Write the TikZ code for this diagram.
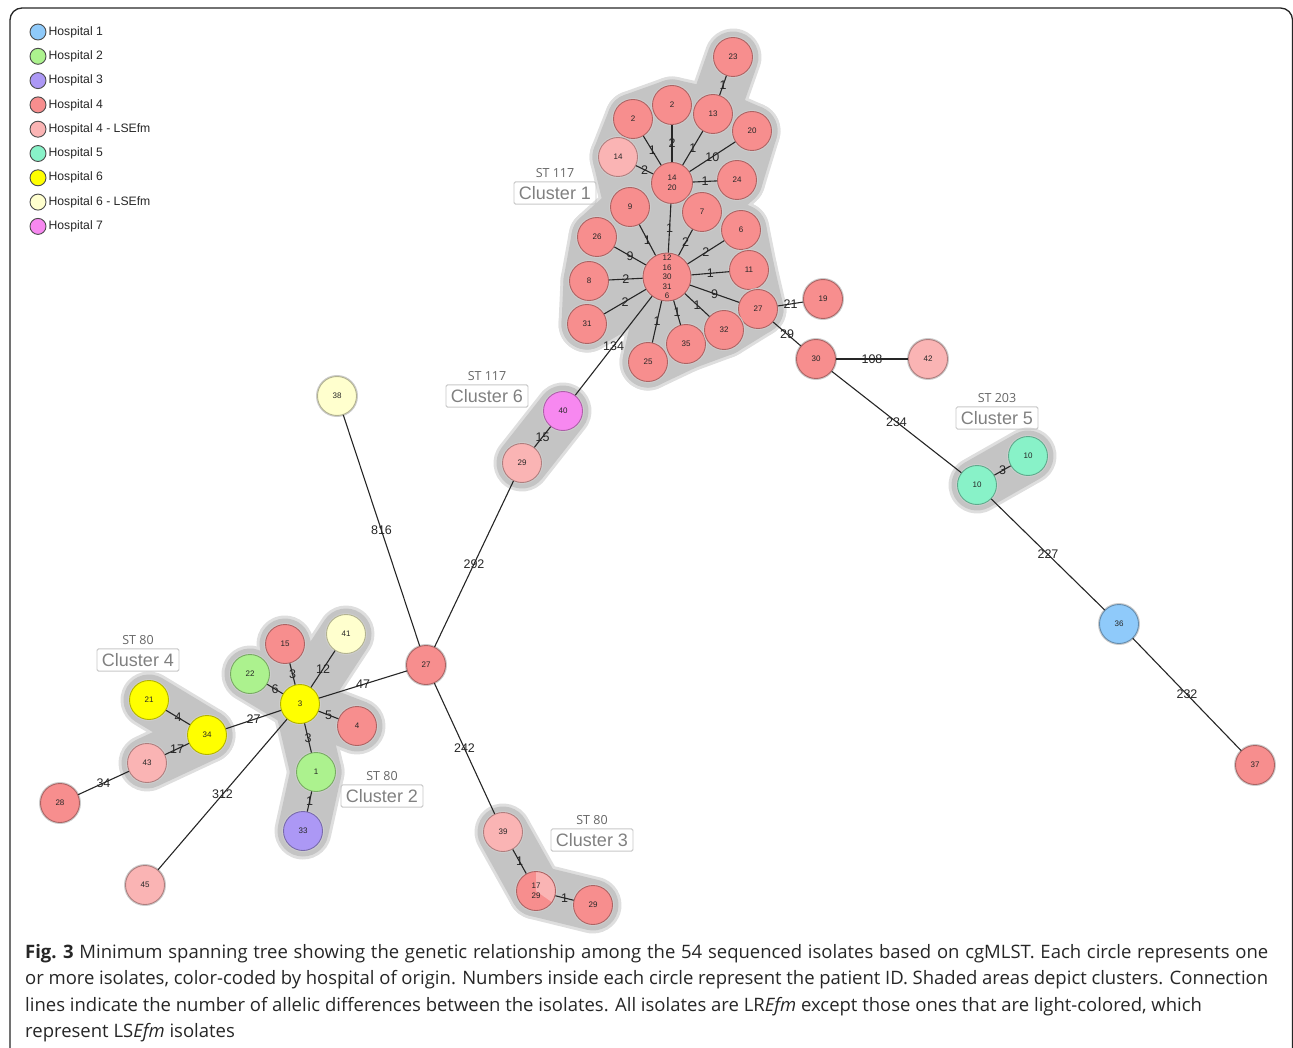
\documentclass[tikz,border=0pt]{standalone}
\usepackage{fontspec}
\setmainfont{Liberation Sans}
\newfontfamily\opensans{Open Sans}
\usetikzlibrary{positioning}
\usetikzlibrary{backgrounds}

\definecolor{hospA}{RGB}{143,202,250}
\definecolor{hospB}{RGB}{172,242,142}
\definecolor{hospC}{RGB}{172,152,245}
\definecolor{hospD}{RGB}{247,142,142}
\definecolor{hospDl}{RGB}{250,180,180}
\definecolor{hospE}{RGB}{136,242,200}
\definecolor{hospF}{RGB}{255,255,0}
\definecolor{hospFl}{RGB}{255,255,206}
\definecolor{hospG}{RGB}{247,136,240}
\definecolor{hullfill}{RGB}{196,196,196}
\definecolor{hullrim}{RGB}{222,222,222}

\tikzset{
  iso/.style={circle, fill=#1, draw=#1!70!black, line width=0.9pt,
    minimum size=39pt, inner sep=0pt, align=center, text=black!85,
    font=\fontsize{8}{9.5}\selectfont,
    preaction={draw=black!20, line width=3pt}},
  link/.style={draw=black!85, line width=1.1pt},
  elabel/.style={font=\fontsize{12.5}{12.5}\selectfont, text=black!85, inner sep=0pt},
  clbox/.style={draw=black!22, rounded corners=1.5pt, line width=0.9pt,
    text=black!50, font=\fontsize{18}{18}\selectfont,
    inner xsep=5pt, inner ysep=4.5pt},
  sttext/.style={font=\opensans\fontsize{12.5}{12.5}\selectfont, text=black!60, inner sep=0pt},
  legdot/.style={circle, fill=#1, draw=black!70, line width=0.9pt,
    minimum size=16pt, inner sep=0pt},
  legtext/.style={font=\fontsize{12.2}{13}\selectfont, text=black!85, inner sep=0.5pt},
  captext/.style={font=\opensans\fontsize{18.5}{26}\selectfont, text=black!85,
    inner sep=0pt, anchor=base west},
  frame/.style={draw=black!85, line width=1.3pt, rounded corners=12pt}
}

\begin{document}
\begin{tikzpicture}[x=1pt, y=-1pt]
  \useasboundingbox (0,0) rectangle (1293,1048);
  \draw[frame] (10,1080) -- (10,8) -- (1292.5,8) -- (1292.5,1080);

  % legend
  \foreach \i/\c/\t in {0/hospA/Hospital 1, 1/hospB/Hospital 2, 2/hospC/Hospital 3,
      3/hospD/Hospital 4, 4/hospDl/Hospital 4 - LSEfm, 5/hospE/Hospital 5,
      6/hospF/Hospital 6, 7/hospFl/Hospital 6 - LSEfm, 8/hospG/Hospital 7} {
    \node[legdot=\c] (leg\i) at (38,32+24.3*\i) {};
    \node[legtext, right=1.5pt of leg\i] (legt\i) {\t};
  }

  % isolates
  \node[iso=hospD, minimum size=48pt] (nhub) at (667,277) {12\\16\\30\\31\\6};
  \node[iso=hospD, minimum size=41pt] (n1420) at (672,183) {14\\20};
  \node[iso=hospD, path picture={\fill[hospDl] (path picture bounding box.center)
      -- ++(90:25pt) arc[start angle=90, end angle=-35, radius=25pt] -- cycle;}]
    (n1729) at (536,891) {17\\29};
  \foreach \n/\c/\x/\y/\t in {
      n23/hospD/733/57/23, n2a/hospD/633/119/2, n2b/hospD/672/105/2,
      n13/hospD/713/114/13, n20/hospD/752/131/20, n14/hospDl/618/157/14,
      n24/hospD/737/180/24, n9/hospD/630/207/9, n7/hospD/702/212/7,
      n26/hospD/597/237/26, n6/hospD/741/230/6, n8/hospD/589/281/8,
      n11/hospD/749/270/11, n31/hospD/587/324/31, n27a/hospD/758/309/27,
      n19/hospD/823/299/19, n25/hospD/648/362/25, n35/hospD/686/344/35,
      n32/hospD/724/330/32, n30/hospD/816/359/30, n42/hospDl/928/359/42,
      n10a/hospE/977/485/10, n10b/hospE/1028/456/10, n36/hospA/1119/624/36,
      n37/hospD/1255/765/37, n40/hospG/563/411/40, n29a/hospDl/522/463/29,
      n27b/hospD/426/665/27, n38/hospFl/337/396/38, n3/hospF/300/704/3,
      n15/hospD/285/644/15, n41/hospFl/346/634/41, n22/hospB/250/674/22,
      n4/hospD/357/726/4, n1/hospB/316/772/1, n33/hospC/303/831/33,
      n34/hospF/207/735/34, n21/hospF/149/700/21, n43/hospDl/147/763/43,
      n28/hospD/60/803/28, n45/hospDl/145/885/45, n39/hospDl/503/832/39,
      n29b/hospD/593/905/29}
    \node[iso=\c] (\n) at (\x,\y) {\t};

  % allelic differences
  \foreach \a/\b/\l in {nhub/n1420/1, n1420/n2a/1, n1420/n2b/2, n1420/n13/1,
      n13/n23/1, n1420/n20/10, n1420/n14/2, n1420/n24/1, nhub/n9/1, nhub/n7/2,
      nhub/n26/9, nhub/n6/2, nhub/n8/2, nhub/n11/1, nhub/n31/2, nhub/n27a/9,
      nhub/n32/1, nhub/n35/1, nhub/n25/1, n27a/n19/21, n27a/n30/29,
      n30/n42/108, n30/n10a/234, n10a/n10b/3, n10a/n36/227, n36/n37/232,
      nhub/n40/134, n40/n29a/15, n29a/n27b/292, n38/n27b/816, n27b/n3/47,
      n27b/n39/242, n39/n1729/1, n1729/n29b/1, n3/n15/3, n3/n41/12, n3/n22/6,
      n3/n4/5, n3/n1/3, n1/n33/1, n3/n34/27, n34/n21/4, n34/n43/17,
      n43/n28/34, n3/n45/312}
    \draw[link] (\a) -- node[elabel] {\l} (\b);

  % shaded clusters
  \begin{scope}[on background layer]
    \foreach \w/\c in {57/hullrim, 51/hullfill} {
      \foreach \a/\b in {nhub/n1420, n1420/n2a, n1420/n2b, n1420/n13, n13/n23,
          n1420/n20, n1420/n14, n1420/n24, nhub/n9, nhub/n7, nhub/n26, nhub/n6,
          nhub/n8, nhub/n11, nhub/n31, nhub/n27a, nhub/n32, nhub/n35, nhub/n25,
          n40/n29a, n10a/n10b, n3/n22, n3/n15, n3/n41, n3/n4, n3/n1, n1/n33,
          n34/n21, n34/n43, n39/n1729, n1729/n29b}
        \draw[line width=\w pt, draw=\c, line cap=round] (\a.center) -- (\b.center);
      \filldraw[line width=\w pt, draw=\c, fill=\c, line join=round]
        (n14.center) -- (n2a.center) -- (n2b.center) -- (n13.center)
        -- (n20.center) -- (n24.center) -- (n7.center) -- (n6.center)
        -- (n11.center) -- (n27a.center) -- (n32.center) -- (n35.center)
        -- (n25.center) -- (nhub.center) -- (n31.center) -- (n8.center)
        -- (n26.center) -- (n9.center) -- cycle;
    }
  \end{scope}

  % cluster labels
  \node[clbox] (cl1) at (555,193) {Cluster 1};
  \node[sttext, above=4pt of cl1] (st1) {ST 117};
  \node[clbox] (cl2) at (382,796) {Cluster 2};
  \node[sttext, above=4pt of cl2] (st2) {ST 80};
  \node[clbox] (cl3) at (592,840) {Cluster 3};
  \node[sttext, above=4pt of cl3] (st3) {ST 80};
  \node[clbox] (cl4) at (138,660) {Cluster 4};
  \node[sttext, above=4pt of cl4] (st4) {ST 80};
  \node[clbox] (cl5) at (997,418) {Cluster 5};
  \node[sttext, above=4pt of cl5] (st5) {ST 203};
  \node[clbox] (cl6) at (487,396) {Cluster 6};
  \node[sttext, above=4pt of cl6] (st6) {ST 117};

  % caption
  \node[captext] (capA) at (25,958) {\makebox[1243pt][s]{\mbox{\textbf{Fig. 3}} Minimum spanning tree showing the genetic relationship among the 54 sequenced isolates based on cgMLST. Each circle represents one}};
  \node[captext] (capB) at (25,984.5) {\makebox[1243pt][s]{or more isolates, color-coded by hospital of origin. Numbers inside each circle represent the patient ID. Shaded areas depict clusters. Connection}};
  \node[captext] (capC) at (25,1011) {lines indicate the number of allelic differences between the isolates. All isolates are LR\textit{Efm} except those ones that are light-colored, which};
  \node[captext] (capD) at (25,1037.5) {represent LS\textit{Efm} isolates};
\end{tikzpicture}
\end{document}
